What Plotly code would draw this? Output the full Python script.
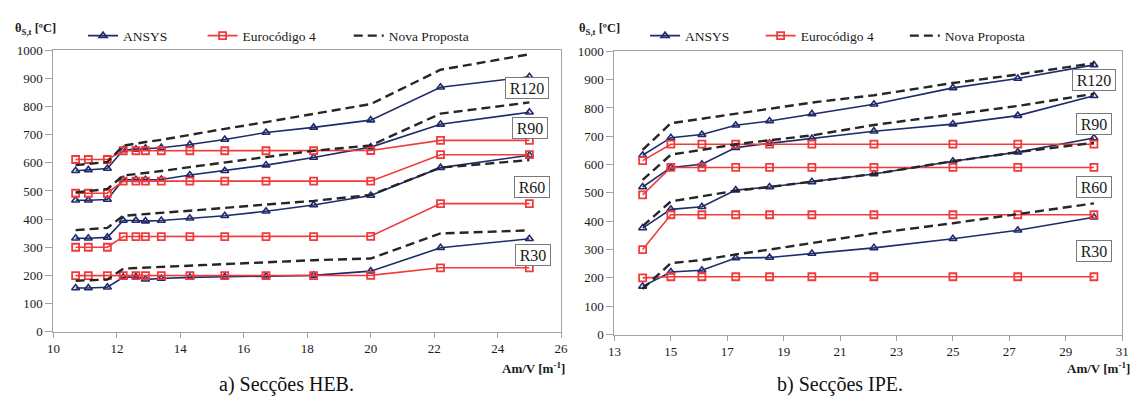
import plotly.graph_objects as go

# Section factors Am/V [m-1]
x_heb = [10.7, 11.1, 11.7, 12.2, 12.6, 12.9, 13.4, 14.3, 15.4, 16.7, 18.2, 20.0, 22.2, 25.0]
x_ipe = [14.0, 15.0, 16.1, 17.3, 18.5, 20.0, 22.2, 25.0, 27.3, 30.0]

# HEB sections - steel temperature [ºC]
heb_r30_ansys = [155, 155, 158, 193, 195, 186, 189, 193, 195, 197, 200, 215, 298, 330]
heb_r30_ec4 = [199, 199, 199, 199, 199, 199, 199, 199, 199, 199, 199, 200, 227, 227]
heb_r30_nova = [181, 182, 185, 224, 226, 228, 230, 235, 240, 247, 254, 260, 349, 360]

heb_r60_ansys = [332, 332, 335, 395, 395, 393, 395, 403, 412, 428, 450, 484, 583, 627]
heb_r60_ec4 = [300, 300, 300, 338, 338, 338, 338, 338, 338, 338, 338, 339, 455, 455]
heb_r60_nova = [361, 364, 369, 412, 415, 419, 423, 430, 440, 452, 465, 486, 583, 610]

heb_r90_ansys = [467, 467, 470, 540, 540, 540, 541, 557, 572, 592, 619, 656, 737, 780]
heb_r90_ec4 = [492, 492, 492, 535, 535, 535, 535, 535, 535, 535, 535, 535, 629, 629]
heb_r90_nova = [495, 500, 507, 555, 560, 565, 571, 585, 601, 621, 643, 662, 775, 815]

heb_r120_ansys = [572, 575, 580, 646, 648, 652, 654, 665, 683, 708, 726, 752, 869, 906]
heb_r120_ec4 = [612, 612, 612, 643, 643, 643, 643, 643, 643, 643, 643, 644, 680, 680]
heb_r120_nova = [592, 597, 603, 661, 667, 674, 682, 700, 721, 745, 775, 809, 931, 986]

# IPE sections - steel temperature [ºC]
ipe_r30_ansys = [170, 221, 227, 270, 272, 286, 306, 338, 368, 414]
ipe_r30_ec4 = [200, 204, 204, 204, 204, 204, 204, 204, 204, 204]
ipe_r30_nova = [161, 252, 263, 283, 300, 323, 357, 393, 425, 463]

ipe_r60_ansys = [376, 442, 451, 510, 521, 539, 567, 612, 644, 694]
ipe_r60_ec4 = [300, 423, 423, 423, 423, 423, 423, 423, 423, 423]
ipe_r60_nova = [383, 470, 488, 508, 521, 539, 567, 612, 644, 677]

ipe_r90_ansys = [521, 590, 601, 660, 675, 692, 718, 743, 773, 843]
ipe_r90_ec4 = [493, 590, 590, 590, 590, 590, 590, 590, 590, 590]
ipe_r90_nova = [546, 635, 652, 672, 686, 703, 740, 777, 807, 850]

ipe_r120_ansys = [633, 695, 706, 739, 754, 779, 813, 871, 904, 952]
ipe_r120_ec4 = [614, 672, 672, 672, 672, 672, 672, 672, 672, 672]
ipe_r120_nova = [652, 746, 762, 780, 797, 819, 845, 888, 918, 958]

series_names = ["ANSYS", "Eurocódigo 4", "Nova Proposta"]
ratings = ["R30", "R60", "R90", "R120"]
y_ticks = [0, 100, 200, 300, 400, 500, 600, 700, 800, 900, 1000]

SERIF = "'Liberation Serif', 'Times New Roman', 'DejaVu Serif', serif"
NAVY = "#1f2b6a"
RED = "#f23a3a"
DASH = "#262626"
AXIS = "#a3a3a3"
INK = "#1a1a1a"

heb_data = [
    (heb_r30_ansys, heb_r30_ec4, heb_r30_nova),
    (heb_r60_ansys, heb_r60_ec4, heb_r60_nova),
    (heb_r90_ansys, heb_r90_ec4, heb_r90_nova),
    (heb_r120_ansys, heb_r120_ec4, heb_r120_nova),
]
ipe_data = [
    (ipe_r30_ansys, ipe_r30_ec4, ipe_r30_nova),
    (ipe_r60_ansys, ipe_r60_ec4, ipe_r60_nova),
    (ipe_r90_ansys, ipe_r90_ec4, ipe_r90_nova),
    (ipe_r120_ansys, ipe_r120_ec4, ipe_r120_nova),
]

fig = go.Figure()


def add_panel(xs, groups, xa, ya, legends):
    styles = [
        dict(mode="lines+markers", line=dict(color=NAVY, width=1.6),
             marker=dict(symbol="triangle-up-open", size=7, color=NAVY, line=dict(width=1.6, color=NAVY))),
        dict(mode="lines+markers", line=dict(color=RED, width=1.6),
             marker=dict(symbol="square-open", size=7, color=RED, line=dict(width=1.8, color=RED))),
        dict(mode="lines", line=dict(color=DASH, width=2.4, dash="9px,5px")),
    ]
    for k in range(3):
        for i, grp in enumerate(groups):
            fig.add_trace(go.Scatter(
                x=xs, y=grp[k], name=series_names[k], xaxis=xa, yaxis=ya,
                showlegend=(i == 0), legend=legends[k], hoverinfo="skip",
                **styles[k]))


add_panel(x_heb, heb_data, "x", "y", ["legend", "legend2", "legend3"])
add_panel(x_ipe, ipe_data, "x2", "y2", ["legend4", "legend5", "legend6"])

W, H = 1140, 409


def px_x(p):
    return p / W


def px_y(p):
    return 1 - p / H


axis_common = dict(showline=True, linecolor=AXIS, linewidth=1, mirror=True, ticks="outside",
                   tickcolor=AXIS, showgrid=False, zeroline=False,
                   tickfont=dict(family=SERIF, size=13, color=INK), fixedrange=True)

layout = dict(
    width=W, height=H, autosize=False,
    margin=dict(l=0, r=0, t=0, b=0),
    paper_bgcolor="white", plot_bgcolor="white",
    font=dict(family=SERIF, size=13, color=INK),
    xaxis=dict(domain=[px_x(47), px_x(561)], range=[10, 26], tick0=10, dtick=2, anchor="y",
               ticklen=5, **axis_common),
    yaxis=dict(domain=[px_y(337), px_y(45)], range=[0, 1000], tickvals=y_ticks, anchor="x",
               ticklen=7, **axis_common),
    xaxis2=dict(domain=[px_x(615), px_x(1129)], range=[13, 31], tick0=13, dtick=2, anchor="y2",
                ticklen=5, **axis_common),
    yaxis2=dict(domain=[px_y(340), px_y(46)], range=[0, 1000], tickvals=y_ticks, anchor="x2",
                ticklen=7, **axis_common),
)

# one legend per entry so each item sits where it belongs above its panel
legend_text_starts = [117, 238, 386, 686, 803, 949]
for n, tx in enumerate(legend_text_starts):
    key = "legend" if n == 0 else f"legend{n + 1}"
    layout[key] = dict(x=px_x(tx - 40), xanchor="left", y=px_y(30), yanchor="middle",
                       orientation="h", bgcolor="rgba(0,0,0,0)", borderwidth=0,
                       font=dict(family=SERIF, size=13.5, color=INK), itemwidth=30)

fig.update_layout(**layout)

annotations = []
# rating labels
heb_label_pos = [(25.1, 271), (25.07, 514), (25.03, 723), (24.94, 866)]
ipe_label_pos = [(30.0, 294), (30.0, 520), (30.0, 745), (30.0, 898)]
for axes, positions in (("", heb_label_pos), ("2", ipe_label_pos)):
    for r, (lx, ly) in zip(ratings, positions):
        annotations.append(dict(x=lx, y=ly, xref="x" + axes, yref="y" + axes, text=r, showarrow=False,
                                font=dict(family=SERIF, size=16, color=INK),
                                bgcolor="white", bordercolor="#7a7a7a", borderwidth=1, borderpad=2,
                                width=38 if r == "R120" else 30, height=16))

# axis titles
ytitle = "<b>θ<sub>S,t</sub> [ºC]</b>"
xtitle = "<b>Am/V [m<sup>-1</sup>]</b>"
for tx in (6, 577):
    annotations.append(dict(x=px_x(tx), y=px_y(23), xref="paper", yref="paper", xanchor="left",
                            yanchor="middle", text=ytitle, showarrow=False,
                            font=dict(family=SERIF, size=12.5, color=INK)))
for tx in (567, 1139):
    annotations.append(dict(x=px_x(tx), y=px_y(375), xref="paper", yref="paper", xanchor="right",
                            yanchor="middle", text=xtitle, showarrow=False,
                            font=dict(family=SERIF, size=13, color=INK)))

# panel captions
for tx, cap in ((283, "a) Secções HEB."), (843, "b) Secções IPE.")):
    annotations.append(dict(x=px_x(tx), y=px_y(392), xref="paper", yref="paper", xanchor="center",
                            yanchor="middle", text=cap, showarrow=False,
                            font=dict(family=SERIF, size=20, color="#111111")))

fig.update_layout(annotations=annotations)

fig.write_html("out.html", config={"displayModeBar": False})
